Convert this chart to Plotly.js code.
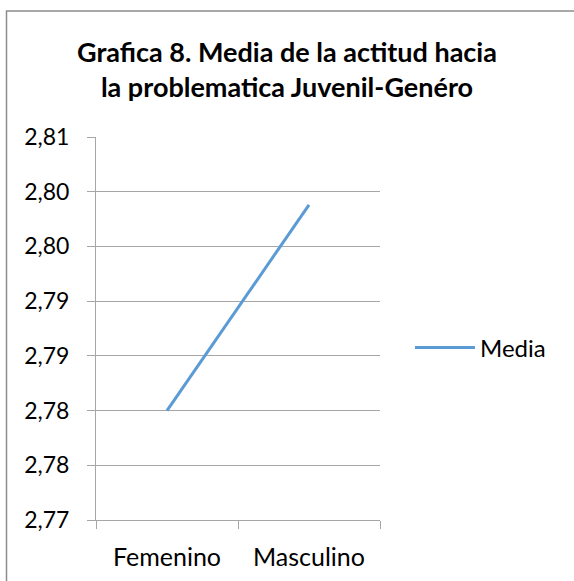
<!DOCTYPE html>
<html>
<head>
<meta charset="utf-8">
<script src="https://cdn.plot.ly/plotly-3.0.1.min.js"></script>
<style>
html,body{margin:0;padding:0;background:#fff;}
#chart{width:574px;height:581px;}
</style>
</head>
<body>
<div id="chart"></div>
<script>
const categories = ['Femenino', 'Masculino'];
const mediaValues = [2.780, 2.7988];
const seriesName = 'Media';
const yTickVals = [2.770, 2.775, 2.780, 2.785, 2.790, 2.795, 2.800, 2.805];
const yTickText = ['2,77', '2,78', '2,78', '2,79', '2,79', '2,80', '2,80', '2,81'];
const titleText = 'Grafica 8. Media de la actitud hacia<br>la problematica Juvenil-Genéro';

const FONT = 'Lato, "Liberation Sans", sans-serif';
const GRID = '#a6a6a6';

const trace = {
  x: categories,
  y: mediaValues,
  type: 'scatter',
  mode: 'lines',
  name: seriesName,
  line: {color: '#5b9bd5', width: 3},
  showlegend: true
};

const L = 96, R = 194, T = 137, B = 61;
const pw = 574 - L - R, ph = 581 - T - B;
function px2x(p){ return (p - L) / pw; }
function py2y(p){ return (581 - B - p) / ph; }

const layout = {
  width: 574, height: 581,
  margin: {l: L, r: R, t: T, b: B, pad: 0},
  paper_bgcolor: '#ffffff',
  plot_bgcolor: '#ffffff',
  font: {family: FONT, size: 24, color: '#000000'},
  title: {
    text: titleText,
    font: {family: FONT, size: 27, color: '#000000', weight: 'bold'},
    xref: 'container', x: 0.5, xanchor: 'center',
    yref: 'container', y: 1 - 62/581, yanchor: 'top'
  },
  xaxis: {
    type: 'category',
    range: [-0.5, 1.5],
    tickson: 'boundaries',
    ticks: 'outside', ticklen: 8, tickcolor: GRID, tickwidth: 1,
    showline: true, linecolor: GRID, linewidth: 1,
    showgrid: false, zeroline: false,
    ticklabelstandoff: 15,
    tickfont: {family: FONT, size: 25, color: '#000'},
    fixedrange: true
  },
  yaxis: {
    range: [2.770, 2.805],
    tickmode: 'array', tickvals: yTickVals, ticktext: yTickText,
    ticks: 'outside', ticklen: 8, tickcolor: GRID, tickwidth: 1,
    showline: true, linecolor: GRID, linewidth: 1,
    showgrid: true, gridcolor: GRID, gridwidth: 1,
    zeroline: false,
    ticklabelstandoff: 13,
    tickfont: {family: FONT, size: 23, color: '#000'},
    fixedrange: true
  },
  legend: {
    x: px2x(410), xanchor: 'left',
    y: py2y(348), yanchor: 'middle',
    font: {family: FONT, size: 24, color: '#000'},
    bgcolor: 'rgba(0,0,0,0)', borderwidth: 0,
    itemwidth: 60
  },
  shapes: [{
    type: 'rect', xref: 'paper', yref: 'paper', layer: 'above',
    x0: px2x(6.5), x1: px2x(590),
    y0: py2y(600), y1: py2y(11),
    line: {color: '#8c8c8c', width: 1.5},
    fillcolor: 'rgba(0,0,0,0)'
  }]
};

Plotly.newPlot('chart', [trace], layout, {displayModeBar: false, staticPlot: true});
</script>
</body>
</html>
